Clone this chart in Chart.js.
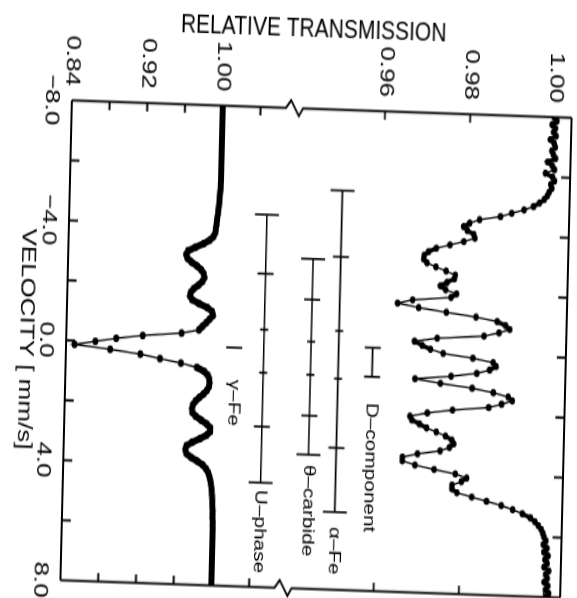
<!DOCTYPE html>
<html>
<head>
<meta charset="utf-8">
<script src="https://cdn.jsdelivr.net/npm/chart.js@4.4.1/dist/chart.umd.min.js"></script>
<style>
  html, body { margin: 0; padding: 0; background: #fff; overflow: hidden; }
  body { width: 577px; height: 598px; position: relative; }
  /* the scanned figure is printed sideways, slightly skewed and stretched */
  #wrap {
    position: absolute; left: 35.75px; top: 29.25px; width: 560px; height: 640px;
    transform: matrix(0.99939, 0.0349, -0.03107, 1.29962, 0, 0) rotate(90deg);
  }
  canvas { display: block; }
</style>
</head>
<body>
<div id="wrap"><canvas id="chart" width="560" height="640"></canvas></div>
<script>
// velocity channels [mm/s]
const velocity = [
  -8.000, -7.875, -7.750, -7.625, -7.500, -7.375, -7.250, -7.125,
  -7.000, -6.875, -6.750, -6.625, -6.500, -6.375, -6.250, -6.125,
  -6.000, -5.875, -5.750, -5.625, -5.500, -5.375, -5.250, -5.125,
  -5.000, -4.875, -4.750, -4.625, -4.500, -4.375, -4.250, -4.125,
  -4.000, -3.875, -3.750, -3.625, -3.500, -3.375, -3.250, -3.125,
  -3.000, -2.875, -2.750, -2.625, -2.500, -2.375, -2.250, -2.125,
  -2.000, -1.875, -1.750, -1.625, -1.500, -1.375, -1.250, -1.125,
  -1.000, -0.875, -0.750, -0.625, -0.500, -0.375, -0.250, -0.125,
   0.000,  0.125,  0.250,  0.375,  0.500,  0.625,  0.750,  0.875,
   1.000,  1.125,  1.250,  1.375,  1.500,  1.625,  1.750,  1.875,
   2.000,  2.125,  2.250,  2.375,  2.500,  2.625,  2.750,  2.875,
   3.000,  3.125,  3.250,  3.375,  3.500,  3.625,  3.750,  3.875,
   4.000,  4.125,  4.250,  4.375,  4.500,  4.625,  4.750,  4.875,
   5.000,  5.125,  5.250,  5.375,  5.500,  5.625,  5.750,  5.875,
   6.000,  6.125,  6.250,  6.375,  6.500,  6.625,  6.750,  6.875,
   7.000,  7.125,  7.250,  7.375,  7.500,  7.625,  7.750,  7.875,
   8.000
];

// upper spectrum (right scale 0.96 - 1.00)
const upperTransmission = [
  0.9998, 1.0004, 0.9993, 1.0001, 0.9997, 1.0003, 0.9990, 0.9999,
  1.0002, 0.9994, 0.9998, 1.0003, 0.9985, 0.9996, 1.0001, 0.9980,
  0.9997, 1.0002, 0.9993, 0.9996, 0.9990, 0.9986, 0.9979, 0.9968,
  0.9954, 0.9932, 0.9903, 0.9877, 0.9828, 0.9805, 0.9791, 0.9800,
  0.9815, 0.9818, 0.9792, 0.9760, 0.9728, 0.9710, 0.9700, 0.9699,
  0.9707, 0.9728, 0.9752, 0.9774, 0.9772, 0.9755, 0.9740, 0.9752,
  0.9778, 0.9765, 0.9675, 0.9640, 0.9690, 0.9755, 0.9825, 0.9875,
  0.9895, 0.9905, 0.9880, 0.9845, 0.9735, 0.9682, 0.9700, 0.9720,
  0.9750, 0.9820, 0.9868, 0.9875, 0.9860, 0.9830, 0.9770, 0.9685,
  0.9745, 0.9820, 0.9870, 0.9905, 0.9915, 0.9890, 0.9860, 0.9775,
  0.9716, 0.9675, 0.9680, 0.9698, 0.9715, 0.9738, 0.9760, 0.9775,
  0.9780, 0.9770, 0.9748, 0.9695, 0.9660, 0.9660, 0.9690, 0.9735,
  0.9785, 0.9812, 0.9800, 0.9778, 0.9778, 0.9790, 0.9825, 0.9860,
  0.9895, 0.9922, 0.9945, 0.9964, 0.9975, 0.9983, 0.9990, 0.9994,
  0.9997, 1.0002, 0.9996, 1.0005, 0.9998, 1.0008, 1.0001, 1.0006,
  0.9999, 1.0010, 1.0003, 1.0007, 1.0000, 1.0009, 1.0004, 1.0011,
  1.0006
];

// lower spectrum (left scale 0.84 - 1.00)
const lowerTransmission = [
  1.0000, 1.0000, 1.0000, 1.0000, 1.0000, 1.0000, 1.0000, 1.0000,
  1.0000, 1.0000, 1.0000, 1.0000, 1.0000, 1.0000, 1.0000, 1.0000,
  1.0000, 1.0000, 1.0000, 0.9999, 0.9999, 0.9998, 0.9997, 0.9995,
  0.9993, 0.9990, 0.9987, 0.9983, 0.9979, 0.9975, 0.9970, 0.9966,
  0.9962, 0.9958, 0.9952, 0.9935, 0.9895, 0.9830, 0.9745, 0.9670,
  0.9650, 0.9665, 0.9710, 0.9770, 0.9815, 0.9840, 0.9850, 0.9830,
  0.9790, 0.9740, 0.9710, 0.9700, 0.9725, 0.9800, 0.9890, 0.9940,
  0.9950, 0.9915, 0.9880, 0.9840, 0.9805, 0.9620, 0.9210, 0.8930,
  0.8710, 0.8490, 0.8870, 0.9190, 0.9400, 0.9620, 0.9790, 0.9870,
  0.9910, 0.9925, 0.9930, 0.9925, 0.9905, 0.9870, 0.9825, 0.9785,
  0.9760, 0.9750, 0.9755, 0.9790, 0.9850, 0.9910, 0.9950, 0.9950,
  0.9910, 0.9840, 0.9760, 0.9700, 0.9690, 0.9700, 0.9750, 0.9820,
  0.9880, 0.9915, 0.9938, 0.9952, 0.9962, 0.9970, 0.9976, 0.9981,
  0.9985, 0.9988, 0.9990, 0.9992, 0.9994, 0.9995, 0.9996, 0.9997,
  0.9998, 0.9999, 0.9999, 1.0000, 1.0000, 1.0000, 1.0000, 1.0000,
  1.0000, 1.0000, 1.0000, 1.0000, 1.0000, 1.0000, 1.0000, 1.0000,
  1.0000
];

// axis ticks
const velocityTicks = [-8, -6, -4, -2, 0, 2, 4, 6, 8];
const velocityLabeled = [-8, -4, 0, 4, 8];
const lowTicks = [0.84, 0.88, 0.92, 0.96, 1.00, 1.04];
const lowLabeled = [0.84, 0.92, 1.00];
const highTicks = [0.96, 0.98, 1.00];
const highLabeled = [0.96, 0.98, 1.00];

// component line positions [mm/s] and relative intensities
const componentNames = ['γ–Fe', 'U–phase', 'θ–carbide', 'α–Fe', 'D–component'];
const gammaFeLines = [0.05];
const gammaFeIntensity = [2];
const uPhaseLines = [-4.42, -2.45, -0.585, 0.85, 2.65, 4.52];
const thetaCarbideLines = [-3.00, -1.64, -0.24, 0.865, 2.23, 3.53];
const alphaFeLines = [-5.31, -3.10, -0.63, 0.965, 3.27, 5.41];
const sextetIntensity = [3, 2, 1, 1, 2, 3];
const dComponentLines = [-0.11, 0.86];
const dComponentIntensity = [2, 2];

// where the stick diagrams sit (axis, transmission of the stem, velocity where the label starts)
const stickLayout = [
  { lines: gammaFeLines, amp: gammaFeIntensity, axis: 'yLow', at: 1.0183, labelAt: 1.12 },
  { lines: uPhaseLines, amp: sextetIntensity, axis: 'yLow', at: 1.0495, labelAt: 4.76 },
  { lines: thetaCarbideLines, amp: sextetIntensity, axis: 'yHigh', at: 0.9439, labelAt: 3.87 },
  { lines: alphaFeLines, amp: sextetIntensity, axis: 'yHigh', at: 0.9504, labelAt: 5.90 },
  { lines: dComponentLines, amp: dComponentIntensity, axis: 'yHigh', at: 0.9584, labelAt: 1.73 }
];

const FONT = '"Liberation Sans", Arial, Helvetica, sans-serif';

function fmtVelocity(v) {
  return (v < 0 ? '−' : '') + Math.abs(v).toFixed(1);
}

// dense channels merge into a heavy band, sparse ones show a thin line
function bandWidth(thick) {
  return ctx => {
    const d = Math.hypot(ctx.p1.x - ctx.p0.x, ctx.p1.y - ctx.p0.y);
    return d < 9 ? thick : 1.3;
  };
}

const framePlugin = {
  id: 'frame',
  afterDatasetsDraw(chart) {
    const { ctx, chartArea: a, scales } = chart;
    const x = scales.x, lo = scales.yLow, hi = scales.yHigh;
    const j = lo.top; // break between the two transmission scales
    ctx.save();
    ctx.strokeStyle = '#000';
    ctx.lineWidth = 1.8;

    // frame with a break mark on both transmission edges
    ctx.beginPath();
    [a.left, a.right].forEach(u => {
      ctx.moveTo(u, a.bottom);
      ctx.lineTo(u, j + 6);
      ctx.lineTo(u - 6, j + 1);
      ctx.lineTo(u + 6, j - 7);
      ctx.lineTo(u, j - 11);
      ctx.lineTo(u, a.top);
    });
    ctx.moveTo(a.left, a.top);
    ctx.lineTo(a.right, a.top);
    ctx.moveTo(a.left, a.bottom);
    ctx.lineTo(a.right, a.bottom);
    ctx.stroke();

    // inward ticks
    ctx.beginPath();
    velocityTicks.forEach(t => {
      if (t === -8 || t === 8) return;
      const p = x.getPixelForValue(t);
      ctx.moveTo(p, a.bottom); ctx.lineTo(p, a.bottom - 9);
      ctx.moveTo(p, a.top); ctx.lineTo(p, a.top + 9);
    });
    [[lo, lowTicks], [hi, highTicks]].forEach(([s, ticks]) => {
      ticks.forEach(t => {
        if (t <= s.min || t >= s.max) return;
        const p = s.getPixelForValue(t);
        ctx.moveTo(a.left, p); ctx.lineTo(a.left + 6.5, p);
        ctx.moveTo(a.right, p); ctx.lineTo(a.right - 6.5, p);
      });
    });
    ctx.stroke();

    // stick diagrams of the components
    ctx.lineWidth = 1.6;
    ctx.fillStyle = '#000';
    ctx.font = '16px ' + FONT;
    ctx.textAlign = 'left';
    ctx.textBaseline = 'middle';
    stickLayout.forEach((c, i) => {
      const s = scales[c.axis];
      const v = s.getPixelForValue(c.at);
      const u0 = x.getPixelForValue(c.lines[0]);
      const u1 = x.getPixelForValue(c.lines[c.lines.length - 1]);
      ctx.beginPath();
      if (c.lines.length > 1) { ctx.moveTo(u0, v); ctx.lineTo(u1, v); }
      c.lines.forEach((l, k) => {
        const u = x.getPixelForValue(l);
        const h = 4 * c.amp[k];
        ctx.moveTo(u, v - h); ctx.lineTo(u, v + h);
      });
      ctx.stroke();
      ctx.fillText(componentNames[i], x.getPixelForValue(c.labelAt), v);
    });

    // common title of both transmission scales
    ctx.font = '21px ' + FONT;
    ctx.textAlign = 'center';
    ctx.translate(34, (a.top + a.bottom) / 2 + 10);
    ctx.rotate(-Math.PI / 2);
    ctx.fillText('RELATIVE TRANSMISSION', 0, 0);
    ctx.restore();
  }
};

const tickFont = { family: FONT, size: 20 };

new Chart(document.getElementById('chart'), {
  type: 'scatter',
  data: {
    datasets: [
      {
        label: 'upper',
        data: velocity.map((v, i) => ({ x: v, y: upperTransmission[i] })),
        xAxisID: 'x',
        yAxisID: 'yHigh',
        showLine: true,
        borderColor: '#000',
        borderWidth: 1.3,
        segment: { borderWidth: bandWidth(3.5) },
        pointRadius: 2.8,
        pointBackgroundColor: '#000',
        pointBorderColor: '#000',
        pointBorderWidth: 0
      },
      {
        label: 'lower',
        data: velocity.map((v, i) => ({ x: v, y: lowerTransmission[i] })),
        xAxisID: 'x',
        yAxisID: 'yLow',
        showLine: true,
        borderColor: '#000',
        borderWidth: 1.3,
        segment: { borderWidth: bandWidth(5.5) },
        pointRadius: 3,
        pointBackgroundColor: '#000',
        pointBorderWidth: 0
      }
    ]
  },
  options: {
    responsive: false,
    animation: false,
    devicePixelRatio: 1,
    layout: { padding: { left: 0, right: 95.4, top: 70, bottom: 0 } },
    plugins: { legend: { display: false }, tooltip: { enabled: false } },
    scales: {
      x: {
        type: 'linear',
        position: 'bottom',
        min: -8,
        max: 8,
        afterBuildTicks: s => { s.ticks = velocityTicks.map(v => ({ value: v })); },
        afterFit: s => { s.height = 70; },
        grid: { display: false, drawTicks: false },
        border: { display: false },
        ticks: {
          color: '#000',
          font: tickFont,
          padding: 8,
          maxRotation: 0,
          autoSkip: false,
          callback: v => velocityLabeled.includes(v) ? fmtVelocity(v) : ''
        },
        title: {
          display: true,
          text: 'VELOCITY [ mm/s]',
          color: '#000',
          font: tickFont,
          padding: { top: 0, bottom: 18 }
        }
      },
      yLow: {
        type: 'linear',
        position: 'left',
        stack: 'transmission',
        stackWeight: 220.25,
        min: 0.84,
        max: 1.0734,
        afterBuildTicks: s => { s.ticks = lowTicks.map(v => ({ value: v })); },
        afterFit: s => { s.width = 95.4; },
        grid: { display: false, drawTicks: false },
        border: { display: false },
        ticks: {
          color: '#000',
          font: tickFont,
          padding: 11,
          autoSkip: false,
          callback: v => lowLabeled.includes(v) ? v.toFixed(2) : ''
        }
      },
      yHigh: {
        type: 'linear',
        position: 'left',
        stack: 'transmission',
        stackWeight: 279.75,
        min: 0.93809,
        max: 1.00384,
        afterBuildTicks: s => { s.ticks = highTicks.map(v => ({ value: v })); },
        afterFit: s => { s.width = 95.4; },
        grid: { display: false, drawTicks: false },
        border: { display: false },
        ticks: {
          color: '#000',
          font: tickFont,
          padding: 11,
          autoSkip: false,
          callback: v => highLabeled.includes(v) ? v.toFixed(2) : ''
        }
      }
    }
  },
  plugins: [framePlugin]
});
</script>
</body>
</html>
